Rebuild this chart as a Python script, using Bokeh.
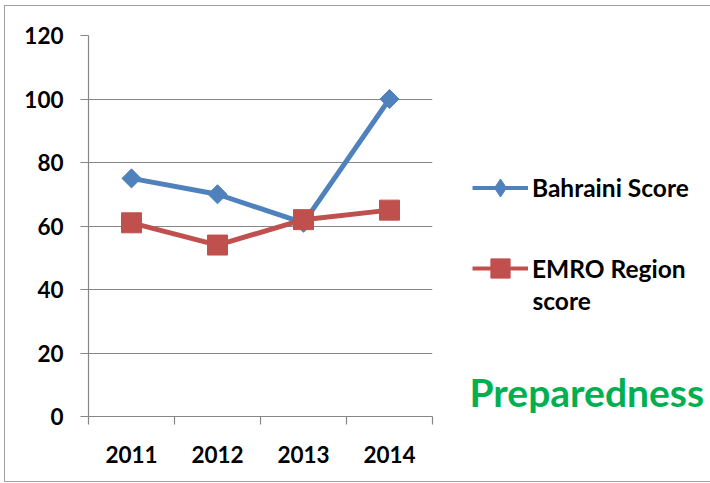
import math
from bokeh.plotting import figure
from bokeh.layouts import row
from bokeh.models import Range1d, FixedTicker, Legend, LegendItem, Label, InlineStyleSheet
from bokeh.embed import file_html
from bokeh.resources import INLINE

years = ["2011", "2012", "2013", "2014"]
bahraini = [75, 70, 61, 100]
emro = [61, 54, 62, 65]
y_ticks = [0, 20, 40, 60, 80, 100, 120]
series_names = ["Bahraini Score", "EMRO Region", "score"]
side_title = "Preparedness"

FONT = "Lato"
GRAY = "#868686"
BLUE = "#4F81BD"
RED = "#C0504D"
GREEN = "#00B050"
H = 483
W1, W2 = 450, 260
TOP, BOTTOM = 35, 416   # frame edges in page pixels

xs = list(range(len(years)))

p = figure(width=W1, height=H, output_backend="svg", toolbar_location=None,
           x_range=Range1d(-0.5, len(years) - 0.5), y_range=Range1d(0, 120),
           min_border_left=88, min_border_right=18, min_border_top=TOP,
           min_border_bottom=H - BOTTOM)
p.outline_line_color = None
p.xgrid.grid_line_color = None
p.ygrid.grid_line_color = GRAY
p.ygrid.grid_line_width = 1.2

p.yaxis.ticker = FixedTicker(ticks=y_ticks)
p.yaxis.axis_line_color = GRAY
p.yaxis.axis_line_width = 1.2
p.yaxis.major_tick_line_color = GRAY
p.yaxis.major_tick_line_width = 1.2
p.yaxis.major_tick_out = 8
p.yaxis.major_tick_in = 0
p.yaxis.minor_tick_line_color = None
p.yaxis.major_label_standoff = 17

p.xaxis.ticker = FixedTicker(ticks=xs, minor_ticks=[x - 0.5 for x in xs] + [xs[-1] + 0.5])
p.xaxis.major_label_overrides = {i: y for i, y in zip(xs, years)}
p.xaxis.axis_line_color = GRAY
p.xaxis.axis_line_width = 1.2
p.xaxis.major_tick_line_color = None
p.xaxis.major_tick_out = 0
p.xaxis.major_tick_in = 0
p.xaxis.minor_tick_line_color = GRAY
p.xaxis.minor_tick_line_width = 1.2
p.xaxis.minor_tick_out = 8
p.xaxis.minor_tick_in = 0
p.xaxis.major_label_standoff = 21

for ax in (p.xaxis, p.yaxis):
    ax.major_label_text_font = FONT
    ax.major_label_text_font_style = "bold"
    ax.major_label_text_font_size = "22.5px"
    ax.major_label_text_color = "black"

p.line(xs, bahraini, line_width=5, color=BLUE)
p.scatter(xs, bahraini, marker="square", angle=math.pi / 4, size=13.5, color=BLUE)
p.line(xs, emro, line_width=5, color=RED)
p.scatter(xs, emro, marker="square", size=20, color=RED)

# right-hand panel (legend + caption); its data space equals page pixels
p2 = figure(width=W2, height=H, output_backend="svg", toolbar_location=None,
            x_range=Range1d(W1, W1 + W2), y_range=Range1d(BOTTOM, TOP),
            x_axis_location=None, y_axis_location=None,
            min_border_left=0, min_border_right=0,
            min_border_top=TOP, min_border_bottom=H - BOTTOM)
p2.outline_line_color = None
p2.grid.visible = False

nan = [math.nan]
k1l = p2.line(nan, nan, line_width=4, color=BLUE)
k1m = p2.scatter(nan, nan, marker="diamond", size=18, color=BLUE)
k2l = p2.line(nan, nan, line_width=4, color=RED)
k2m = p2.scatter(nan, nan, marker="square", size=19, color=RED)


def make_legend(label, rends, gh, loc):
    return Legend(items=[LegendItem(label=label, renderers=rends)], location=loc,
                  glyph_width=56, glyph_height=gh, label_standoff=4, padding=0, margin=0,
                  spacing=0, border_line_color=None, background_fill_alpha=0,
                  label_text_font=FONT, label_text_font_style="bold",
                  label_text_font_size="24.5px", label_text_color="black")


# location = bottom-left of legend, measured from frame bottom-left
p2.add_layout(make_legend(series_names[0], [k1l, k1m], 45, (22, BOTTOM - 188 - 22)))
p2.add_layout(make_legend(series_names[1], [k2l, k2m], 48, (22, BOTTOM - 268 - 24)))

p2.add_layout(Label(x=532, y=300, text=series_names[2],
                    text_font=FONT, text_font_style="bold", text_font_size="24.5px",
                    text_baseline="middle", text_align="left", text_color="black"))
p2.add_layout(Label(x=469, y=391, text=side_title,
                    text_font=FONT, text_font_style="bold", text_font_size="39px",
                    text_baseline="middle", text_align="left", text_color=GREEN))

css = """
:host { position: relative; }
:host::after {
  content: ""; position: absolute; left: 3.5px; top: 4.5px; right: -2px; bottom: 1px;
  border-style: solid; border-color: #a0a0a0; border-width: 1.5px 0 1.5px 1.5px;
  pointer-events: none; box-sizing: border-box;
}
"""
layout = row(p, p2, spacing=0, stylesheets=[InlineStyleSheet(css=css)])

open("out.html", "w").write(file_html(layout, INLINE))
